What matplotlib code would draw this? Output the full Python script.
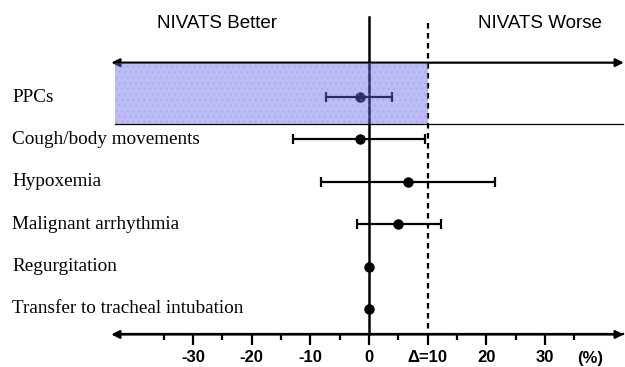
import matplotlib.pyplot as plt
import matplotlib.patches as mpatches
import numpy as np

# data
outcomes = ['PPCs', 'Cough/body movements', 'Hypoxemia', 'Malignant arrhythmia',
            'Regurgitation', 'Transfer to tracheal intubation']
diff = [-1.6, -1.6, 6.7, 5.0, 0.0, 0.0]
ci_low = [-7.3, -13.0, -8.1, -2.1, 0.0, 0.0]
ci_high = [4.0, 9.5, 21.5, 12.2, 0.0, 0.0]
margin = 10
major_ticks = [-30, -20, -10, 0, 10, 20, 30]
major_labels = ['-30', '-20', '-10', '0', '\u0394=10', '20', '30']
minor_ticks = [-35, -25, -15, -5, 5, 15, 25, 35]

fig = plt.figure(figsize=(6.25, 3.67), dpi=100)
ax = fig.add_axes([0, 0, 1, 1])
ax.set_xlim(-62.86, 43.61)
ax.set_ylim(6.368, -2.288)

y = np.arange(len(outcomes))
xerr = [np.array(diff) - np.array(ci_low), np.array(ci_high) - np.array(diff)]
ax.errorbar(diff, y, xerr=xerr, fmt='o', color='black', ms=6.5, lw=1.6,
            capsize=3.5, capthick=1.6, zorder=3)

# reference lines
ax.plot([0, 0], [-1.89, 5.6], color='black', lw=1.8, zorder=2)
ax.plot([margin, margin], [-1.75, 5.6], color='black', lw=1.6,
        ls=(0, (2.5, 2)), zorder=2)

# top double arrow and shaded region
ax.annotate('', xy=(-43.9, -0.81), xytext=(43.4, -0.81),
            arrowprops=dict(arrowstyle='<|-|>', color='black', lw=1.6,
                            mutation_scale=12, shrinkA=0, shrinkB=0))
ax.plot([-43.3, 43.3], [0.64, 0.64], color='black', lw=0.9, zorder=2)
rect = mpatches.Rectangle((-43.3, -0.81), 43.3 + margin, 1.45,
                          facecolor=(0.4, 0.4, 0.92), alpha=0.43,
                          edgecolor='none', zorder=5)
ax.add_patch(rect)
dots = mpatches.Rectangle((-43.3, -0.81), 43.3 + margin, 1.45,
                          facecolor='none', edgecolor=(0.55, 0.55, 0.9),
                          hatch='...', lw=0, zorder=5, alpha=0.25)
ax.add_patch(dots)

# bottom axis
for s in ['top', 'right', 'left']:
    ax.spines[s].set_visible(False)
ax.spines['bottom'].set_position(('data', 5.6))
ax.spines['bottom'].set_bounds(-43.3, 43.3)
ax.spines['bottom'].set_linewidth(1.6)
ax.annotate('', xy=(-43.9, 5.6), xytext=(43.4, 5.6),
            arrowprops=dict(arrowstyle='<|-|>', color='black', lw=1.6,
                            mutation_scale=12, shrinkA=0, shrinkB=0))
ax.set_xticks(major_ticks)
ax.set_xticklabels(major_labels, fontsize=12, fontweight='bold',
                   family='Liberation Sans')
ax.set_xticks(minor_ticks, minor=True)
ax.tick_params(axis='x', which='major', length=8, width=1.6, pad=3)
ax.tick_params(axis='x', which='minor', length=4, width=1.6)
ax.set_yticks([])
ax.text(37.6, 6.16, '(%)', fontsize=12, fontweight='bold',
        family='Liberation Sans', ha='center', va='center')

# labels
for i, name in enumerate(outcomes):
    ax.text(12 / 625, i, name, transform=ax.get_yaxis_transform(),
            fontsize=13.8, family='Liberation Serif', ha='left', va='center')

ax.text(-25.9, -1.745, 'NIVATS Better', fontsize=13.5, family='Liberation Sans',
        ha='center', va='center')
ax.text(29.1, -1.745, 'NIVATS Worse', fontsize=13.5, family='Liberation Sans',
        ha='center', va='center')

fig.savefig('out.png', dpi=100)
